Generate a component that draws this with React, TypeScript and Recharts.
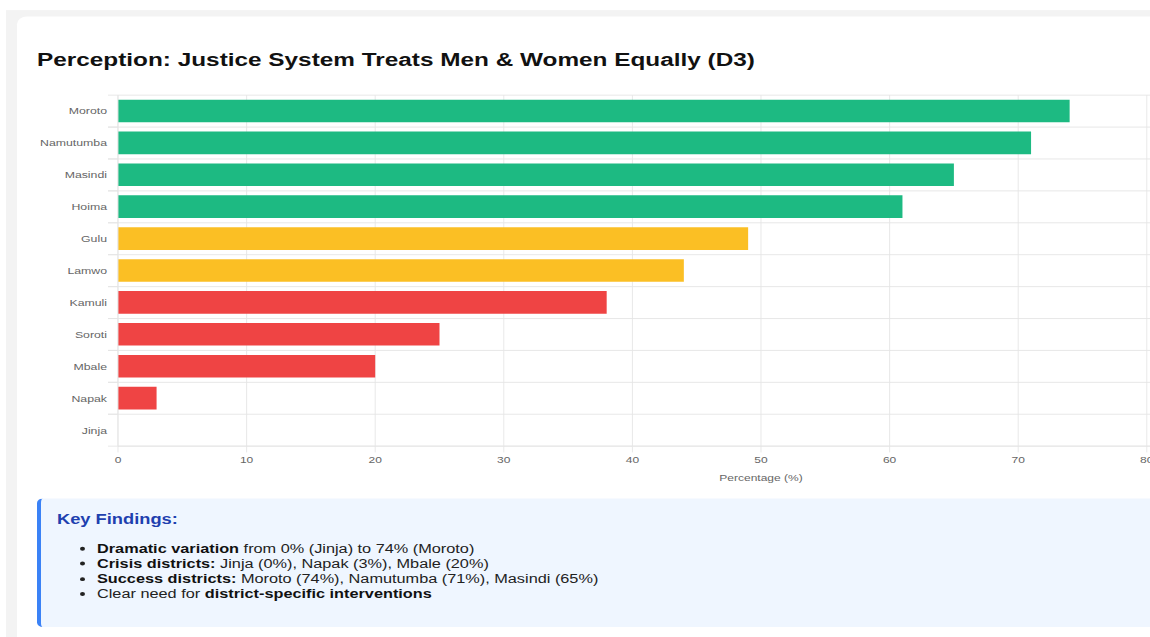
import React from 'react';
import { BarChart, Bar, XAxis, YAxis, CartesianGrid, Cell, Label } from 'recharts';

const districts = ['Moroto', 'Namutumba', 'Masindi', 'Hoima', 'Gulu', 'Lamwo', 'Kamuli', 'Soroti', 'Mbale', 'Napak', 'Jinja'];
const percentages = [74, 71, 65, 61, 49, 44, 38, 25, 20, 3, 0];
const xTicks = [0, 10, 20, 30, 40, 50, 60, 70, 80, 90, 100];

const GREEN = '#1dba82';
const YELLOW = '#fbbf24';
const RED = '#ef4444';
const colorFor = (v: number) => (v >= 60 ? GREEN : v >= 40 ? YELLOW : RED);

const data = districts.map((d, i) => ({ district: d, value: percentages[i] }));

const SY = 0.78;
const CHART_W = 1420;
const CHART_H = 510;
const MARGIN = { top: 10, right: 16, bottom: 0, left: 0 };
const Y_W = 118;
const X_H = 50;
const PLOT_H = CHART_H - MARGIN.top - MARGIN.bottom - X_H;
const BAND = PLOT_H / districts.length;
const GRID = '#e5e5e5';
const FONT = '"Liberation Sans", Arial, Helvetica, sans-serif';

function YTick(props: any) {
  const { y, payload } = props;
  const left = MARGIN.left + Y_W;
  return (
    <g>
      <line x1={left - 10} x2={left} y1={y - BAND / 2} y2={y - BAND / 2} stroke={GRID} />
      <line x1={left - 10} x2={left} y1={y + BAND / 2} y2={y + BAND / 2} stroke={GRID} />
      <text x={left - 11} y={y} dy="0.35em" textAnchor="end" fill="#666" fontSize={12.3} fontFamily={FONT}>
        {payload.value}
      </text>
    </g>
  );
}

const hGen = (p: any) => {
  const top = p?.offset?.top ?? MARGIN.top;
  const h = p?.offset?.height ?? PLOT_H;
  return Array.from({ length: districts.length + 1 }, (_, i) => top + (i * h) / districts.length);
};

export default function App() {
  return (
    <div style={{ position: 'absolute', left: 0, top: 0, width: 1150, height: 637, overflow: 'hidden', background: '#fff', fontFamily: FONT }}>
      <div style={{ position: 'absolute', left: 0, top: 0, width: 1500, height: 637 / SY, transform: `scaleY(${SY})`, transformOrigin: '0 0' }}>
        <div style={{ position: 'absolute', left: 6, top: 12.8, width: 1500, height: 900, background: '#f3f3f3' }} />
        <div style={{ position: 'absolute', left: 17, top: 20.5, width: 1500, height: 900, background: '#fff', borderRadius: 10 }} />
        <div style={{ position: 'absolute', left: 37, top: 60.6, fontSize: 24.35, lineHeight: '30px', fontWeight: 700, color: '#111', whiteSpace: 'nowrap' }}>
          Perception: Justice System Treats Men &amp; Women Equally (D3)
        </div>
        <div style={{ position: 'absolute', left: 0, top: 111.8 }}>
          <BarChart width={CHART_W} height={CHART_H} data={data} layout="vertical" margin={MARGIN} barCategoryGap="14%">
            <CartesianGrid stroke={GRID} horizontalCoordinatesGenerator={hGen} />
            <XAxis
              type="number"
              domain={[0, 100]}
              ticks={xTicks}
              interval={0}
              height={X_H}
              stroke={GRID}
              tickSize={8}
              tickMargin={5}
              tick={{ fill: '#666', fontSize: 12, fontFamily: FONT }}
            >
              <Label value="Percentage (%)" position="insideBottom" offset={5} fill="#666" fontSize={12} fontFamily={FONT} />
            </XAxis>
            <YAxis
              type="category"
              dataKey="district"
              width={Y_W}
              interval={0}
              tickLine={false}
              axisLine={{ stroke: GRID }}
              tick={<YTick />}
            />
            <Bar dataKey="value" isAnimationActive={false}>
              {data.map((d, i) => (
                <Cell key={i} fill={colorFor(d.value)} />
              ))}
            </Bar>
          </BarChart>
        </div>
        <div
          style={{
            position: 'absolute',
            left: 37,
            top: 638.5,
            width: 1300,
            height: 165,
            boxSizing: 'border-box',
            background: '#eff6ff',
            borderLeft: '4px solid #3b82f6',
            borderRadius: 6,
            padding: '16px 16px',
          }}
        >
          <div style={{ fontSize: 18.3, fontWeight: 700, lineHeight: '22px', color: '#1e40af' }}>Key Findings:</div>
          <ul style={{ margin: '17.7px 0 0 0', paddingLeft: 40, fontSize: 16.3, lineHeight: '19.2px', color: '#222' }}>
            <li><b style={{ color: '#111' }}>Dramatic variation</b> from 0% (Jinja) to 74% (Moroto)</li>
            <li><b style={{ color: '#111' }}>Crisis districts:</b> Jinja (0%), Napak (3%), Mbale (20%)</li>
            <li><b style={{ color: '#111' }}>Success districts:</b> Moroto (74%), Namutumba (71%), Masindi (65%)</li>
            <li>Clear need for <b style={{ color: '#111' }}>district-specific interventions</b></li>
          </ul>
        </div>
      </div>
    </div>
  );
}
